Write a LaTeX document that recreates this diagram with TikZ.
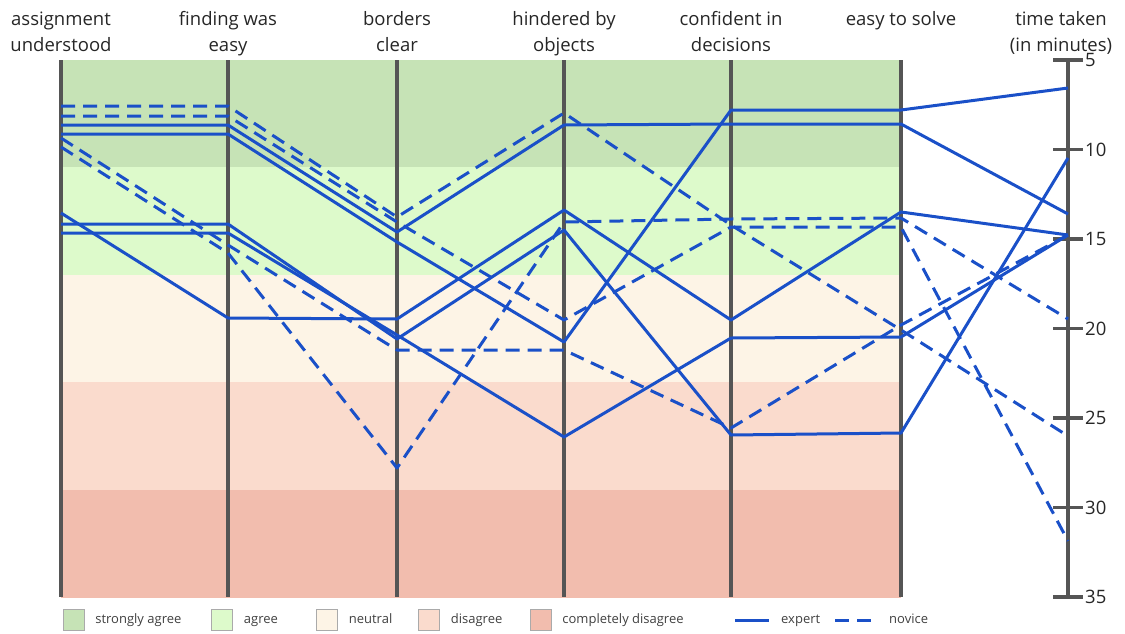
\documentclass[tikz,border=0pt]{standalone}
\usepackage{fontspec}
\setmainfont{Open Sans}
\usepackage{tikz}
\usetikzlibrary{positioning}
\definecolor{ligne}{HTML}{1A50C8}
\definecolor{gris}{HTML}{555555}
\definecolor{vertfonce}{HTML}{C6E3B6}
\definecolor{vertclair}{HTML}{DDFACB}
\definecolor{creme}{HTML}{FDF4E6}
\definecolor{rose}{HTML}{FADBCD}
\definecolor{saumon}{HTML}{F2BDAE}

\begin{document}
\begin{tikzpicture}[x=1pt,y=-1pt,
  axe/.style={draw=gris,line width=3.5pt},
  titre/.style={align=center,font=\fontsize{18.5}{26}\selectfont,text=black!85},
  expert/.style={draw=ligne,line width=3pt,line join=round},
  novice/.style={expert,dash pattern=on 14pt off 8pt},
  case/.style={draw=gris!50,minimum size=21pt,inner sep=0pt},
  leg/.style={font=\fontsize{13}{15}\selectfont,text=black!75,inner sep=0pt,text height=9.5pt,text depth=3pt}]
  \useasboundingbox (0,0) rectangle (1125,633);
  % bandes de l'echelle
  \foreach \c/\y in {vertfonce/60,vertclair/167,creme/275,rose/382,saumon/490}
    \fill[\c] (61,\y) rectangle (901,\y+107.5);
  % axes des questions
  \foreach \x/\y/\t [count=\i] in {
      61/51/{assignment\\understood},
      228/51/{finding was\\easy},
      397/51/{borders\\clear},
      564/51/{hindered by\\objects},
      731/51/{confident in\\decisions},
      901/25/{easy to solve}}{
    \coordinate (h\i) at (\x,60);
    \coordinate (b\i) at (\x,597);
    \draw[axe] (h\i) -- (b\i);
    \node[titre,anchor=base] (t\i) at (\x,\y) {\t};
  }
  % axe du temps
  \coordinate (h7) at (1068,60);
  \coordinate (b7) at (1068,597);
  \draw[axe] (h7) -- (b7);
  \node[titre,anchor=base] (t7) at (1061,51) {time taken\\(in minutes)};
  \foreach \m [count=\k from 0] in {5,10,...,35}{
    \draw[axe] (1053,60+89.5*\k) -- (1083,60+89.5*\k);
    \node[titre,anchor=west,inner sep=2pt] (m\k) at (1083,60+89.5*\k) {\m};
  }
  % participants
  \foreach \s/\a/\b/\c/\d/\e/\f/\g in {
      expert/125/125/232/125/124/124/214,
      expert/134/134/242/342/110/110/88,
      expert/213/318/319/210/320/212/235,
      expert/224/224/339/230/435/433/158,
      expert/233/233/335/437/338/337/235,
      novice/106/106/217/113/225/330/436,
      novice/116/116/222/320/227/227/541,
      novice/138/245/350/350/428/325/235,
      novice/147/253/468/222/219/218/319}
    \draw[\s] (61,\a) -- (228,\b) -- (397,\c) -- (564,\d) -- (731,\e) -- (901,\f) -- (1068,\g);
  % legende
  \foreach \c/\x/\t [count=\i] in {vertfonce/73.5/strongly agree,vertclair/222/agree,
      creme/327/neutral,rose/429/disagree,saumon/540.5/completely disagree}{
    \node[case,fill=\c] (c\i) at (\x,620) {};
    \node[leg,right=11pt of c\i] (l\i) {\t};
  }
  \coordinate (e1) at (735,620);
  \coordinate (e2) at (769,620);
  \draw[expert] (e1) -- (e2);
  \node[leg,right=12pt of e2] (le) {expert};
  \coordinate (n1) at (835,620);
  \coordinate (n2) at (876,620);
  \draw[novice] (n1) -- (n2);
  \node[leg,right=13pt of n2] (ln) {novice};
\end{tikzpicture}
\end{document}
